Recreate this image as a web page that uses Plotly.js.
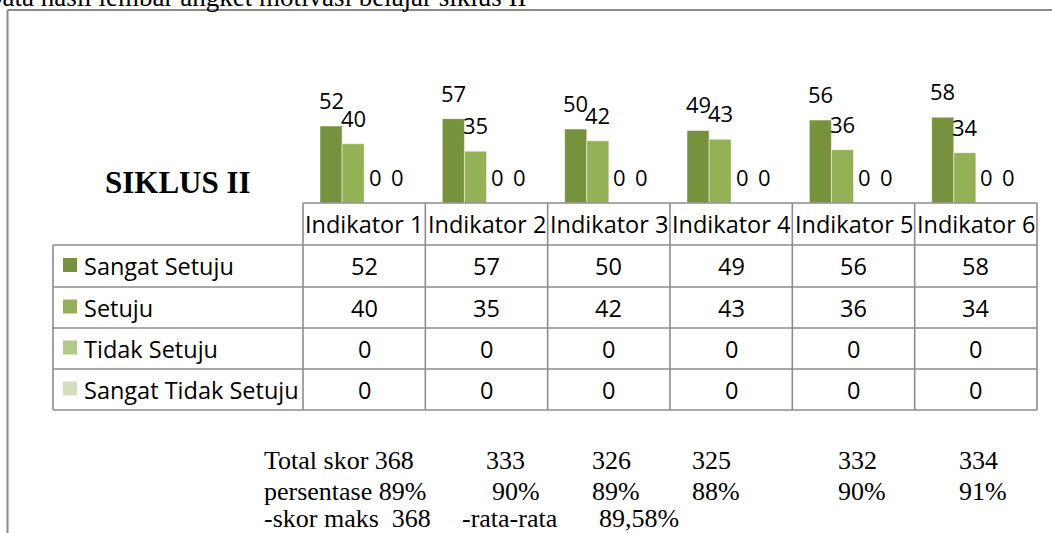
<!DOCTYPE html>
<html>
<head>
<meta charset="utf-8">
<script src="https://cdn.plot.ly/plotly-3.0.1.min.js"></script>
<style>
html,body{margin:0;padding:0;background:#fff;}
#chart{width:1052px;height:533px;}
</style>
</head>
<body>
<div id="chart"></div>
<script>
// ---------- data ----------
const categories = ['Indikator 1','Indikator 2','Indikator 3','Indikator 4','Indikator 5','Indikator 6'];
const seriesNames = ['Sangat Setuju','Setuju','Tidak Setuju','Sangat Tidak Setuju'];
const sangatSetuju = [52, 57, 50, 49, 56, 58];
const setuju = [40, 35, 42, 43, 36, 34];
const tidakSetuju = [0, 0, 0, 0, 0, 0];
const sangatTidakSetuju = [0, 0, 0, 0, 0, 0];
const totalSkor = [368, 333, 326, 325, 332, 334];
const persentase = ['89%', '90%', '89%', '88%', '90%', '91%'];
const skorMaks = 368;
const rataRata = '89,58%';
const chartTitle = 'SIKLUS II';
const captionText = 'Data hasil lembar angket motivasi belajar siklus II';

// ---------- style ----------
const seriesValues = [sangatSetuju, setuju, tidakSetuju, sangatTidakSetuju];
const colors = ['#77923D', '#94B155', '#B2C987', '#D4DFBE'];
const W = 1052, H = 533;
const PL = 303, PR = 1037, PT = 55, PB = 203;
const colW = (PR - PL) / categories.length;
const bargap = 0.278;
const barW = colW * (1 - bargap) / seriesNames.length;
const sans = 'Open Sans, DejaVu Sans, sans-serif';
const serif = 'Liberation Serif, DejaVu Serif, serif';
const lineColor = '#8C8C8C';
function px(x){ return (x - PL) / (PR - PL); }
function py(y){ return (PB - y) / (PB - PT); }

const traces = seriesNames.map((name, k) => ({
  type: 'bar', name: name, x: categories, y: seriesValues[k],
  marker: {color: colors[k], line: {color: 'rgba(255,255,255,0.6)', width: 0.8}},
  cliponaxis: false, hoverinfo: 'skip'
}));

const shapes = [];
const annotations = [];
function hline(y, x0, x1, color, w){
  shapes.push({type:'line', xref:'paper', yref:'paper', x0:px(x0), x1:px(x1), y0:py(y), y1:py(y), line:{color:color, width:w}});
}
function vline(x, y0, y1, color, w){
  shapes.push({type:'line', xref:'paper', yref:'paper', x0:px(x), x1:px(x), y0:py(y0), y1:py(y1), line:{color:color, width:w}});
}
function txt(t, x, y, font, xanchor){
  annotations.push({xref:'paper', yref:'paper', x:px(x), y:py(y), text:t, showarrow:false,
    xanchor: xanchor || 'center', yanchor:'middle', font: font});
}

// outer frame
hline(10, 7.5, 1052, '#8A8A8A', 2);
vline(7.5, 10, 533, '#8A8A8A', 2);

// data labels above bars
seriesValues.forEach((vals, k) => {
  vals.forEach((v, i) => {
    annotations.push({xref:'x', yref:'y', x:categories[i], y:v, text:String(v), showarrow:false,
      xshift:(k - 1.5) * barW, yshift:26, xanchor:'center', yanchor:'middle',
      font:{family:sans, size:22, color:'#000'}});
  });
});

// data table
const headerTop = 203;
const rowEdges = [245, 287, 328, 369, 410];
const tableLeft = 53;
hline(headerTop, PL, PR, lineColor, 1.6);
rowEdges.forEach(y => hline(y, tableLeft, PR, lineColor, 1.6));
vline(tableLeft, rowEdges[0], rowEdges[rowEdges.length-1], lineColor, 1.6);
for (let i = 0; i <= categories.length; i++) {
  vline(PL + i * colW, headerTop, rowEdges[rowEdges.length-1], lineColor, 1.6);
}
const cellFont = {family:sans, size:23.5, color:'#000'};
categories.forEach((c, i) => txt(c, PL + (i + 0.5) * colW, (headerTop + rowEdges[0]) / 2, cellFont));
seriesNames.forEach((name, k) => {
  const yc = (rowEdges[k] + rowEdges[k+1]) / 2;
  shapes.push({type:'rect', xref:'paper', yref:'paper', x0:px(63), x1:px(77), y0:py(yc - 8), y1:py(yc + 6),
    line:{width:0}, fillcolor:colors[k]});
  txt(name, 82, yc, cellFont, 'left');
  seriesValues[k].forEach((v, i) => txt(String(v), PL + (i + 0.5) * colW, yc, cellFont));
});

// chart title
txt('<b>' + chartTitle + '</b>', 178, 182, {family:serif, size:31, color:'#000'});

// caption (cut at top)
txt(captionText, -19, -3, {family:serif, size:27, color:'#000'}, 'left');

// bottom notes
const noteFont = {family:serif, size:26, color:'#000'};
const totalX = [262, 484, 590, 690, 836, 957];
const pctX = [262, 490, 590, 690, 836, 957];
totalSkor.forEach((v, i) => txt(i === 0 ? 'Total skor ' + v : String(v), totalX[i], 461, noteFont, 'left'));
persentase.forEach((v, i) => txt(i === 0 ? 'persentase ' + v : v, pctX[i], 491, noteFont, 'left'));
txt('-skor maks\u00a0\u00a0' + skorMaks, 262, 518, noteFont, 'left');
txt('-rata-rata', 460, 518, noteFont, 'left');
txt(rataRata, 597, 518, noteFont, 'left');

const layout = {
  width: W, height: H,
  margin: {l: PL, r: W - PR, t: PT, b: H - PB, pad: 0, autoexpand: false},
  paper_bgcolor: '#fff', plot_bgcolor: 'rgba(0,0,0,0)',
  barmode: 'group', bargap: bargap, bargroupgap: 0,
  showlegend: false,
  xaxis: {type:'category', range:[-0.5, categories.length - 0.5], showticklabels:false, showgrid:false, zeroline:false, showline:false, ticks:''},
  yaxis: {range:[0, 100], showticklabels:false, showgrid:false, zeroline:false, showline:false, ticks:''},
  shapes: shapes, annotations: annotations,
  font: {family: sans}
};
Plotly.newPlot('chart', traces, layout, {staticPlot: true, displayModeBar: false});
</script>
</body>
</html>
